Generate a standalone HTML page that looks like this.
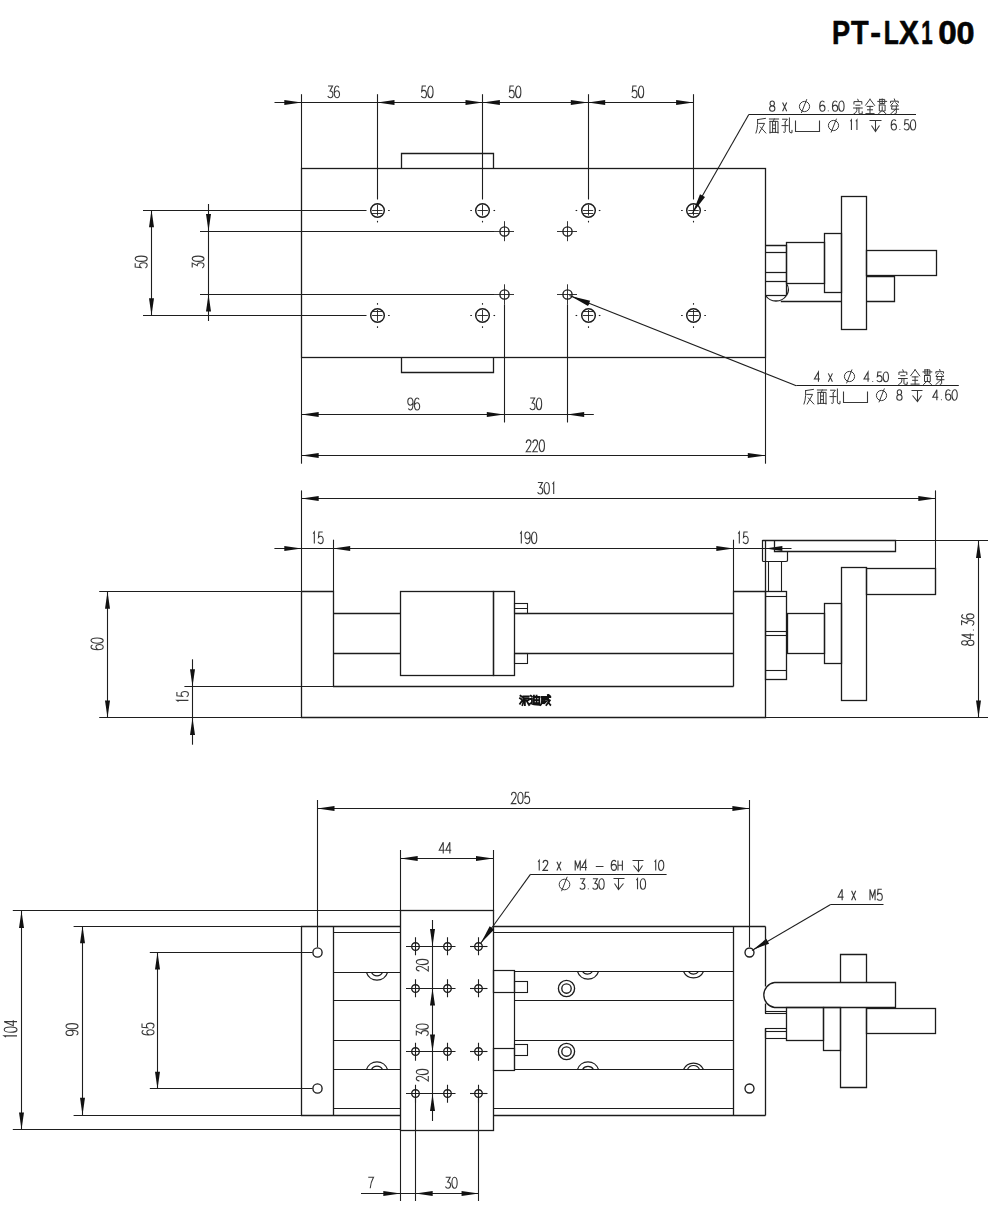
<!DOCTYPE html>
<html><head><meta charset="utf-8"><title>PT-LX100</title>
<style>
html,body{margin:0;padding:0;background:#fff;width:1000px;height:1221px;overflow:hidden}
svg{display:block;position:absolute;left:0;top:0}
text{font-family:"Liberation Sans",sans-serif}
</style></head><body>
<svg width="1000" height="1221" viewBox="0 0 1000 1221" stroke-linecap="butt">
<text transform="translate(831.88 43.5) scale(0.842 1)" x="0" y="0" font-size="32.3" font-weight="bold" fill="#050505" stroke="#050505" stroke-width="0.6" stroke-linejoin="round">P</text>
<text transform="translate(850.98 43.5) scale(0.894 1)" x="0" y="0" font-size="32.3" font-weight="bold" fill="#050505" stroke="#050505" stroke-width="0.6" stroke-linejoin="round">T</text>
<text transform="translate(870.24 43.5) scale(1.000 1)" x="0" y="0" font-size="32.3" font-weight="bold" fill="#050505" stroke="#050505" stroke-width="0.6" stroke-linejoin="round">-</text>
<text transform="translate(883.65 43.5) scale(0.763 1)" x="0" y="0" font-size="32.3" font-weight="bold" fill="#050505" stroke="#050505" stroke-width="0.6" stroke-linejoin="round">L</text>
<text transform="translate(899.04 43.5) scale(0.925 1)" x="0" y="0" font-size="32.3" font-weight="bold" fill="#050505" stroke="#050505" stroke-width="0.6" stroke-linejoin="round">X</text>
<text transform="translate(921.26 43.5) scale(0.635 1)" x="0" y="0" font-size="32.3" font-weight="bold" fill="#050505" stroke="#050505" stroke-width="0.6" stroke-linejoin="round">1</text>
<text transform="translate(938.19 43.5) scale(1.029 1)" x="0" y="0" font-size="32.3" font-weight="bold" fill="#050505" stroke="#050505" stroke-width="0.6" stroke-linejoin="round">0</text>
<text transform="translate(956.62 43.5) scale(1.003 1)" x="0" y="0" font-size="32.3" font-weight="bold" fill="#050505" stroke="#050505" stroke-width="0.6" stroke-linejoin="round">0</text>
<rect x="301.5" y="168.5" width="464" height="189" fill="none" stroke="#1c1c1c" stroke-width="1.3"/>
<path d="M401.5 168.5V153.5H493.5V168.5" fill="none" stroke="#1c1c1c" stroke-width="1.3"/>
<path d="M401.5 357.5V372.5H493.5V357.5" fill="none" stroke="#1c1c1c" stroke-width="1.3"/>
<line x1="274.5" y1="102.5" x2="693.3" y2="102.5" stroke="#1e1e1e" stroke-width="1.1"/>
<path d="M301.5 102.5L284.3 105L284.3 100Z" fill="#111" stroke="none"/>
<path d="M377.3 102.5L394.5 100L394.5 105Z" fill="#111" stroke="none"/>
<path d="M482.7 102.5L465.5 105L465.5 100Z" fill="#111" stroke="none"/>
<path d="M482.7 102.5L499.9 100L499.9 105Z" fill="#111" stroke="none"/>
<path d="M588 102.5L570.8 105L570.8 100Z" fill="#111" stroke="none"/>
<path d="M588 102.5L605.2 100L605.2 105Z" fill="#111" stroke="none"/>
<path d="M693.3 102.5L676.1 105L676.1 100Z" fill="#111" stroke="none"/>
<line x1="301.5" y1="94.2" x2="301.5" y2="168" stroke="#1e1e1e" stroke-width="1.1"/>
<line x1="377.5" y1="94.2" x2="377.5" y2="199.5" stroke="#1e1e1e" stroke-width="1.1"/>
<line x1="482.5" y1="94.2" x2="482.5" y2="199.5" stroke="#1e1e1e" stroke-width="1.1"/>
<line x1="588.5" y1="94.2" x2="588.5" y2="199.5" stroke="#1e1e1e" stroke-width="1.1"/>
<line x1="693.5" y1="94.2" x2="693.5" y2="199.5" stroke="#1e1e1e" stroke-width="1.1"/>
<path transform="translate(327.65 86.00) scale(0.940 1.170)" d="M0.4 0H5.2L2.5 4.3C4.5 4.3 5.6 5.6 5.6 7.2C5.6 9 4.4 10 2.8 10C1.6 10 0.7 9.5 0.1 8.5" fill="none" stroke="#383838" stroke-width="1.1" vector-effect="non-scaling-stroke"/>
<path transform="translate(334.25 86.00) scale(0.940 1.170)" d="M5 1.2C4.5 0.4 3.8 0 2.9 0C1 0 0 2.3 0 5.6C0 8.6 1.2 10 2.9 10C4.6 10 5.6 8.7 5.6 7C5.6 5.2 4.5 4 2.9 4C1.5 4 0.5 4.8 0 6.1" fill="none" stroke="#383838" stroke-width="1.1" vector-effect="non-scaling-stroke"/>
<path transform="translate(421.20 86.00) scale(0.940 1.180)" d="M5.1 0H1.1L0.6 4.6C1.2 4 2 3.7 2.9 3.7C4.6 3.7 5.6 5 5.6 6.9C5.6 8.9 4.4 10 2.8 10C1.6 10 0.7 9.5 0.1 8.5" fill="none" stroke="#383838" stroke-width="1.1" vector-effect="non-scaling-stroke"/>
<path transform="translate(427.80 86.00) scale(0.940 1.180)" d="M0 5A2.8 5 0 1 1 5.6 5A2.8 5 0 1 1 0 5Z" fill="none" stroke="#383838" stroke-width="1.1" vector-effect="non-scaling-stroke"/>
<path transform="translate(509.00 86.00) scale(0.940 1.180)" d="M5.1 0H1.1L0.6 4.6C1.2 4 2 3.7 2.9 3.7C4.6 3.7 5.6 5 5.6 6.9C5.6 8.9 4.4 10 2.8 10C1.6 10 0.7 9.5 0.1 8.5" fill="none" stroke="#383838" stroke-width="1.1" vector-effect="non-scaling-stroke"/>
<path transform="translate(515.60 86.00) scale(0.940 1.180)" d="M0 5A2.8 5 0 1 1 5.6 5A2.8 5 0 1 1 0 5Z" fill="none" stroke="#383838" stroke-width="1.1" vector-effect="non-scaling-stroke"/>
<path transform="translate(631.80 86.00) scale(0.940 1.180)" d="M5.1 0H1.1L0.6 4.6C1.2 4 2 3.7 2.9 3.7C4.6 3.7 5.6 5 5.6 6.9C5.6 8.9 4.4 10 2.8 10C1.6 10 0.7 9.5 0.1 8.5" fill="none" stroke="#383838" stroke-width="1.1" vector-effect="non-scaling-stroke"/>
<path transform="translate(638.40 86.00) scale(0.940 1.180)" d="M0 5A2.8 5 0 1 1 5.6 5A2.8 5 0 1 1 0 5Z" fill="none" stroke="#383838" stroke-width="1.1" vector-effect="non-scaling-stroke"/>
<circle cx="377.5" cy="210.5" r="6.8" fill="none" stroke="#1c1c1c" stroke-width="1.45"/>
<line x1="372.1" y1="210.5" x2="382.5" y2="210.5" stroke="#1e1e1e" stroke-width="0.9"/>
<line x1="377.5" y1="204.55" x2="377.5" y2="215.55" stroke="#1e1e1e" stroke-width="0.9"/>
<line x1="372" y1="213.5" x2="382.6" y2="213.5" stroke="#1e1e1e" stroke-width="0.9"/>
<line x1="388.1" y1="210.5" x2="389.7" y2="210.5" stroke="#1e1e1e" stroke-width="1.1"/>
<line x1="377.5" y1="220.85" x2="377.5" y2="222.45" stroke="#1e1e1e" stroke-width="1.1"/>
<circle cx="482.5" cy="210.5" r="6.8" fill="none" stroke="#1c1c1c" stroke-width="1.45"/>
<line x1="477.5" y1="210.5" x2="487.9" y2="210.5" stroke="#1e1e1e" stroke-width="0.9"/>
<line x1="482.5" y1="204.55" x2="482.5" y2="215.55" stroke="#1e1e1e" stroke-width="0.9"/>
<line x1="493.5" y1="210.5" x2="495.1" y2="210.5" stroke="#1e1e1e" stroke-width="1.1"/>
<line x1="482.5" y1="220.85" x2="482.5" y2="222.45" stroke="#1e1e1e" stroke-width="1.1"/>
<line x1="470.3" y1="210.5" x2="471.9" y2="210.5" stroke="#1e1e1e" stroke-width="1.1"/>
<circle cx="588.5" cy="210.5" r="6.8" fill="none" stroke="#1c1c1c" stroke-width="1.45"/>
<line x1="582.8" y1="210.5" x2="593.2" y2="210.5" stroke="#1e1e1e" stroke-width="0.9"/>
<line x1="588.5" y1="204.55" x2="588.5" y2="215.55" stroke="#1e1e1e" stroke-width="0.9"/>
<line x1="582.7" y1="213.5" x2="593.3" y2="213.5" stroke="#1e1e1e" stroke-width="0.9"/>
<line x1="598.8" y1="210.5" x2="600.4" y2="210.5" stroke="#1e1e1e" stroke-width="1.1"/>
<line x1="588.5" y1="220.85" x2="588.5" y2="222.45" stroke="#1e1e1e" stroke-width="1.1"/>
<line x1="575.6" y1="210.5" x2="577.2" y2="210.5" stroke="#1e1e1e" stroke-width="1.1"/>
<circle cx="693.5" cy="210.5" r="6.8" fill="none" stroke="#1c1c1c" stroke-width="1.45"/>
<line x1="688.3" y1="210.5" x2="698.7" y2="210.5" stroke="#1e1e1e" stroke-width="0.9"/>
<line x1="693.5" y1="204.55" x2="693.5" y2="215.55" stroke="#1e1e1e" stroke-width="0.9"/>
<line x1="688.2" y1="213.5" x2="698.8" y2="213.5" stroke="#1e1e1e" stroke-width="0.9"/>
<line x1="704.3" y1="210.5" x2="705.9" y2="210.5" stroke="#1e1e1e" stroke-width="1.1"/>
<line x1="693.5" y1="220.85" x2="693.5" y2="222.45" stroke="#1e1e1e" stroke-width="1.1"/>
<line x1="681.1" y1="210.5" x2="682.7" y2="210.5" stroke="#1e1e1e" stroke-width="1.1"/>
<circle cx="377.5" cy="315.5" r="6.8" fill="none" stroke="#1c1c1c" stroke-width="1.45"/>
<line x1="372.1" y1="315.5" x2="382.5" y2="315.5" stroke="#1e1e1e" stroke-width="0.9"/>
<line x1="377.5" y1="310" x2="377.5" y2="321" stroke="#1e1e1e" stroke-width="0.9"/>
<line x1="372" y1="311.5" x2="382.6" y2="311.5" stroke="#1e1e1e" stroke-width="0.9"/>
<line x1="388.1" y1="315.5" x2="389.7" y2="315.5" stroke="#1e1e1e" stroke-width="1.1"/>
<line x1="377.5" y1="326.3" x2="377.5" y2="327.9" stroke="#1e1e1e" stroke-width="1.1"/>
<line x1="377.5" y1="303.1" x2="377.5" y2="304.7" stroke="#1e1e1e" stroke-width="1.1"/>
<circle cx="482.5" cy="315.5" r="6.8" fill="none" stroke="#1c1c1c" stroke-width="1.45"/>
<line x1="477.5" y1="315.5" x2="487.9" y2="315.5" stroke="#1e1e1e" stroke-width="0.9"/>
<line x1="482.5" y1="310" x2="482.5" y2="321" stroke="#1e1e1e" stroke-width="0.9"/>
<line x1="493.5" y1="315.5" x2="495.1" y2="315.5" stroke="#1e1e1e" stroke-width="1.1"/>
<line x1="482.5" y1="326.3" x2="482.5" y2="327.9" stroke="#1e1e1e" stroke-width="1.1"/>
<line x1="470.3" y1="315.5" x2="471.9" y2="315.5" stroke="#1e1e1e" stroke-width="1.1"/>
<line x1="482.5" y1="303.1" x2="482.5" y2="304.7" stroke="#1e1e1e" stroke-width="1.1"/>
<circle cx="588.5" cy="315.5" r="6.8" fill="none" stroke="#1c1c1c" stroke-width="1.45"/>
<line x1="582.8" y1="315.5" x2="593.2" y2="315.5" stroke="#1e1e1e" stroke-width="0.9"/>
<line x1="588.5" y1="310" x2="588.5" y2="321" stroke="#1e1e1e" stroke-width="0.9"/>
<line x1="582.7" y1="311.5" x2="593.3" y2="311.5" stroke="#1e1e1e" stroke-width="0.9"/>
<line x1="598.8" y1="315.5" x2="600.4" y2="315.5" stroke="#1e1e1e" stroke-width="1.1"/>
<line x1="588.5" y1="326.3" x2="588.5" y2="327.9" stroke="#1e1e1e" stroke-width="1.1"/>
<line x1="575.6" y1="315.5" x2="577.2" y2="315.5" stroke="#1e1e1e" stroke-width="1.1"/>
<line x1="588.5" y1="303.1" x2="588.5" y2="304.7" stroke="#1e1e1e" stroke-width="1.1"/>
<circle cx="693.5" cy="315.5" r="6.8" fill="none" stroke="#1c1c1c" stroke-width="1.45"/>
<line x1="688.3" y1="315.5" x2="698.7" y2="315.5" stroke="#1e1e1e" stroke-width="0.9"/>
<line x1="693.5" y1="310" x2="693.5" y2="321" stroke="#1e1e1e" stroke-width="0.9"/>
<line x1="688.2" y1="311.5" x2="698.8" y2="311.5" stroke="#1e1e1e" stroke-width="0.9"/>
<line x1="704.3" y1="315.5" x2="705.9" y2="315.5" stroke="#1e1e1e" stroke-width="1.1"/>
<line x1="693.5" y1="326.3" x2="693.5" y2="327.9" stroke="#1e1e1e" stroke-width="1.1"/>
<line x1="681.1" y1="315.5" x2="682.7" y2="315.5" stroke="#1e1e1e" stroke-width="1.1"/>
<line x1="693.5" y1="303.1" x2="693.5" y2="304.7" stroke="#1e1e1e" stroke-width="1.1"/>
<circle cx="504.5" cy="231.5" r="4.6" fill="none" stroke="#1c1c1c" stroke-width="1.35"/>
<line x1="494" y1="231.5" x2="514" y2="231.5" stroke="#1e1e1e" stroke-width="0.9"/>
<line x1="504.5" y1="221.2" x2="504.5" y2="241.2" stroke="#1e1e1e" stroke-width="0.9"/>
<circle cx="567.5" cy="231.5" r="4.6" fill="none" stroke="#1c1c1c" stroke-width="1.35"/>
<line x1="557" y1="231.5" x2="577" y2="231.5" stroke="#1e1e1e" stroke-width="0.9"/>
<line x1="567.5" y1="221.2" x2="567.5" y2="241.2" stroke="#1e1e1e" stroke-width="0.9"/>
<circle cx="504.5" cy="294.5" r="4.6" fill="none" stroke="#1c1c1c" stroke-width="1.35"/>
<line x1="494" y1="294.5" x2="514" y2="294.5" stroke="#1e1e1e" stroke-width="0.9"/>
<line x1="504.5" y1="284.3" x2="504.5" y2="304.3" stroke="#1e1e1e" stroke-width="0.9"/>
<circle cx="567.5" cy="294.5" r="4.6" fill="none" stroke="#1c1c1c" stroke-width="1.35"/>
<line x1="557" y1="294.5" x2="577" y2="294.5" stroke="#1e1e1e" stroke-width="0.9"/>
<line x1="567.5" y1="284.3" x2="567.5" y2="304.3" stroke="#1e1e1e" stroke-width="0.9"/>
<line x1="143" y1="210.5" x2="366.5" y2="210.5" stroke="#1e1e1e" stroke-width="1.1"/>
<line x1="143" y1="315.5" x2="366.5" y2="315.5" stroke="#1e1e1e" stroke-width="1.1"/>
<line x1="200" y1="231.5" x2="494" y2="231.5" stroke="#1e1e1e" stroke-width="1.1"/>
<line x1="200" y1="294.5" x2="494" y2="294.5" stroke="#1e1e1e" stroke-width="1.1"/>
<line x1="151.5" y1="210.05" x2="151.5" y2="315.5" stroke="#1e1e1e" stroke-width="1.1"/>
<path d="M151.5 210.05L154 227.25L149 227.25Z" fill="#111" stroke="none"/>
<path d="M151.5 315.5L149 298.3L154 298.3Z" fill="#111" stroke="none"/>
<line x1="208.5" y1="204" x2="208.5" y2="321" stroke="#1e1e1e" stroke-width="1.1"/>
<path d="M208.5 231.2L206 214L211 214Z" fill="#111" stroke="none"/>
<path d="M208.5 294.3L211 311.5L206 311.5Z" fill="#111" stroke="none"/>
<g transform="translate(147.2 268) rotate(-90)">
<path transform="translate(0.00 -12.00) scale(0.940 1.200)" d="M5.1 0H1.1L0.6 4.6C1.2 4 2 3.7 2.9 3.7C4.6 3.7 5.6 5 5.6 6.9C5.6 8.9 4.4 10 2.8 10C1.6 10 0.7 9.5 0.1 8.5" fill="none" stroke="#383838" stroke-width="1.1" vector-effect="non-scaling-stroke"/>
<path transform="translate(6.60 -12.00) scale(0.940 1.200)" d="M0 5A2.8 5 0 1 1 5.6 5A2.8 5 0 1 1 0 5Z" fill="none" stroke="#383838" stroke-width="1.1" vector-effect="non-scaling-stroke"/>
</g>
<g transform="translate(204 268) rotate(-90)">
<path transform="translate(0.00 -11.80) scale(0.940 1.180)" d="M0.4 0H5.2L2.5 4.3C4.5 4.3 5.6 5.6 5.6 7.2C5.6 9 4.4 10 2.8 10C1.6 10 0.7 9.5 0.1 8.5" fill="none" stroke="#383838" stroke-width="1.1" vector-effect="non-scaling-stroke"/>
<path transform="translate(6.60 -11.80) scale(0.940 1.180)" d="M0 5A2.8 5 0 1 1 5.6 5A2.8 5 0 1 1 0 5Z" fill="none" stroke="#383838" stroke-width="1.1" vector-effect="non-scaling-stroke"/>
</g>
<line x1="504.5" y1="304.3" x2="504.5" y2="422.5" stroke="#1e1e1e" stroke-width="1.1"/>
<line x1="567.5" y1="304.3" x2="567.5" y2="422.5" stroke="#1e1e1e" stroke-width="1.1"/>
<line x1="301.5" y1="357.5" x2="301.5" y2="463.7" stroke="#1e1e1e" stroke-width="1.1"/>
<line x1="765.5" y1="357.5" x2="765.5" y2="463.7" stroke="#1e1e1e" stroke-width="1.1"/>
<line x1="301.5" y1="414.5" x2="593.8" y2="414.5" stroke="#1e1e1e" stroke-width="1.1"/>
<path d="M301.5 414.5L318.7 412L318.7 417Z" fill="#111" stroke="none"/>
<path d="M504 414.5L486.8 417L486.8 412Z" fill="#111" stroke="none"/>
<path d="M567 414.5L584.2 412L584.2 417Z" fill="#111" stroke="none"/>
<path transform="translate(407.80 398.00) scale(0.940 1.200)" d="M0.6 8.8C1.1 9.6 1.8 10 2.7 10C4.6 10 5.6 7.7 5.6 4.4C5.6 1.4 4.4 0 2.7 0C1 0 0 1.3 0 3C0 4.8 1.1 6 2.7 6C4.1 6 5.1 5.2 5.6 3.9" fill="none" stroke="#383838" stroke-width="1.1" vector-effect="non-scaling-stroke"/>
<path transform="translate(414.40 398.00) scale(0.940 1.200)" d="M5 1.2C4.5 0.4 3.8 0 2.9 0C1 0 0 2.3 0 5.6C0 8.6 1.2 10 2.9 10C4.6 10 5.6 8.7 5.6 7C5.6 5.2 4.5 4 2.9 4C1.5 4 0.5 4.8 0 6.1" fill="none" stroke="#383838" stroke-width="1.1" vector-effect="non-scaling-stroke"/>
<path transform="translate(529.80 398.00) scale(0.940 1.180)" d="M0.4 0H5.2L2.5 4.3C4.5 4.3 5.6 5.6 5.6 7.2C5.6 9 4.4 10 2.8 10C1.6 10 0.7 9.5 0.1 8.5" fill="none" stroke="#383838" stroke-width="1.1" vector-effect="non-scaling-stroke"/>
<path transform="translate(536.40 398.00) scale(0.940 1.180)" d="M0 5A2.8 5 0 1 1 5.6 5A2.8 5 0 1 1 0 5Z" fill="none" stroke="#383838" stroke-width="1.1" vector-effect="non-scaling-stroke"/>
<line x1="301.5" y1="455.5" x2="765" y2="455.5" stroke="#1e1e1e" stroke-width="1.1"/>
<path d="M301.5 455.5L318.7 453L318.7 458Z" fill="#111" stroke="none"/>
<path d="M765 455.5L747.8 458L747.8 453Z" fill="#111" stroke="none"/>
<path transform="translate(526.00 439.90) scale(0.940 1.180)" d="M0.3 2.6C0.4 0.8 1.5 0 2.8 0C4.3 0 5.3 1 5.3 2.7C5.3 4.6 3.4 6.2 0.2 10H5.6" fill="none" stroke="#383838" stroke-width="1.1" vector-effect="non-scaling-stroke"/>
<path transform="translate(532.60 439.90) scale(0.940 1.180)" d="M0.3 2.6C0.4 0.8 1.5 0 2.8 0C4.3 0 5.3 1 5.3 2.7C5.3 4.6 3.4 6.2 0.2 10H5.6" fill="none" stroke="#383838" stroke-width="1.1" vector-effect="non-scaling-stroke"/>
<path transform="translate(539.20 439.90) scale(0.940 1.180)" d="M0 5A2.8 5 0 1 1 5.6 5A2.8 5 0 1 1 0 5Z" fill="none" stroke="#383838" stroke-width="1.1" vector-effect="non-scaling-stroke"/>
<line x1="748.8" y1="114.5" x2="916" y2="114.5" stroke="#1e1e1e" stroke-width="1.1"/>
<line x1="748.8" y1="114.6" x2="692.6" y2="213" stroke="#1e1e1e" stroke-width="1.1"/>
<path d="M692.6 213L700 194.19L705.04 197.07Z" fill="#111" stroke="none"/>
<path transform="translate(769.60 101.00) scale(0.940 1.030)" d="M2.8 4.7C1.3 4.7 0.5 3.8 0.5 2.35C0.5 0.9 1.4 0 2.8 0C4.2 0 5.1 0.9 5.1 2.35C5.1 3.8 4.3 4.7 2.8 4.7C1.1 4.7 0 5.8 0 7.35C0 9 1.2 10 2.8 10C4.4 10 5.6 9 5.6 7.35C5.6 5.8 4.5 4.7 2.8 4.7Z" fill="none" stroke="#383838" stroke-width="1.1" vector-effect="non-scaling-stroke"/>
<path transform="translate(782.02 101.00) scale(0.940 1.030)" d="M0.6 1.4L5.0 10M5.0 1.4L0.6 10" fill="none" stroke="#383838" stroke-width="1.1" vector-effect="non-scaling-stroke"/>
<circle cx="804.5" cy="106.5" r="5.1" fill="none" stroke="#383838" stroke-width="1"/>
<line x1="801.35" y1="113.03" x2="806.8" y2="99.16" stroke="#383838" stroke-width="1"/>
<path transform="translate(819.70 101.00) scale(0.940 1.030)" d="M5 1.2C4.5 0.4 3.8 0 2.9 0C1 0 0 2.3 0 5.6C0 8.6 1.2 10 2.9 10C4.6 10 5.6 8.7 5.6 7C5.6 5.2 4.5 4 2.9 4C1.5 4 0.5 4.8 0 6.1" fill="none" stroke="#383838" stroke-width="1.1" vector-effect="non-scaling-stroke"/>
<path transform="translate(826.07 101.00) scale(0.940 1.030)" d="M2.4 9.2V10" fill="none" stroke="#383838" stroke-width="1.1" vector-effect="non-scaling-stroke"/>
<path transform="translate(832.44 101.00) scale(0.940 1.030)" d="M5 1.2C4.5 0.4 3.8 0 2.9 0C1 0 0 2.3 0 5.6C0 8.6 1.2 10 2.9 10C4.6 10 5.6 8.7 5.6 7C5.6 5.2 4.5 4 2.9 4C1.5 4 0.5 4.8 0 6.1" fill="none" stroke="#383838" stroke-width="1.1" vector-effect="non-scaling-stroke"/>
<path transform="translate(838.81 101.00) scale(0.940 1.030)" d="M0 5A2.8 5 0 1 1 5.6 5A2.8 5 0 1 1 0 5Z" fill="none" stroke="#383838" stroke-width="1.1" vector-effect="non-scaling-stroke"/>
<path transform="translate(853 99) scale(0.96 1)" d="M5 0.3L5.6 2 M1 5V2.6H9.2V5 M3 6.2H7.2 M0.6 9H9.6 M4 9V11.5Q3.6 13.8 0.8 15 M6.2 9V13.8Q6.2 14.8 7.4 14.8H9.6V12.8" fill="none" stroke="#383838" stroke-width="1" vector-effect="non-scaling-stroke" stroke-linecap="square"/>
<path transform="translate(865.2 99) scale(0.96 1)" d="M5 0.2L0.4 6.2 M5 0.2L9.8 6.4 M2 7.4H8 M2.4 10.8H7.6 M0.8 14.6H9.2 M5 7.4V14.6" fill="none" stroke="#383838" stroke-width="1" vector-effect="non-scaling-stroke" stroke-linecap="square"/>
<path transform="translate(877.4 99) scale(0.96 1)" d="M2.4 0.4V4.6H7.6V0.4H2.4 M0.4 2.4H9.6 M5 0V4.6 M2 6V12H8V6H2 M5 7.8V11 M4.2 12L1 15 M5.8 12L9.2 15" fill="none" stroke="#383838" stroke-width="1" vector-effect="non-scaling-stroke" stroke-linecap="square"/>
<path transform="translate(889.6 99) scale(0.96 1)" d="M5 0L5.5 1.6 M1 3.6V2.2H9V3.6 M3.6 3.8L1.6 6 M6.4 3.8L8.6 6 M1.4 7H8.8 M2.6 7L2 10.2H9.4 M7 7V14Q7 15 5.6 14.8 M6.2 10.4L1 15" fill="none" stroke="#383838" stroke-width="1" vector-effect="non-scaling-stroke" stroke-linecap="square"/>
<path transform="translate(756 118) scale(1 1)" d="M9.4 0.4L1.6 1.6 M1.6 1.6V6.5Q1.4 11.5 0 15 M2.8 5.4H8.6L3.2 15 M4.4 9L9.8 15" fill="none" stroke="#383838" stroke-width="1" vector-effect="non-scaling-stroke" stroke-linecap="square"/>
<path transform="translate(769 118) scale(1 1)" d="M0.4 1H9.6 M5.2 1L4.4 3.4 M1 3.4V15 M1 3.4H9V15 M3.6 3.4V14.4 M6.4 3.4V14.4 M3.6 7H6.4 M3.6 10.6H6.4 M1 14.4H9" fill="none" stroke="#383838" stroke-width="1" vector-effect="non-scaling-stroke" stroke-linecap="square"/>
<path transform="translate(782 118) scale(1 1)" d="M0.6 1.2H5.4L3.2 4 M3.2 4V13.8Q3.2 15 1.6 14.2 M0 7.6H6 M7.4 0V12.8Q7.4 14.8 9 14.8H10V12.4" fill="none" stroke="#383838" stroke-width="1" vector-effect="non-scaling-stroke" stroke-linecap="square"/>
<path d="M795.5 120.5V131.5H819.5V120.5" fill="none" stroke="#383838" stroke-width="1.1"/>
<circle cx="833.5" cy="125.5" r="5.1" fill="none" stroke="#383838" stroke-width="1"/>
<line x1="831.05" y1="132.53" x2="836.5" y2="118.66" stroke="#383838" stroke-width="1"/>
<path transform="translate(848.42 119.80) scale(0.940 1.020)" d="M2.0 1.4L3.2 0V10" fill="none" stroke="#383838" stroke-width="1.1" vector-effect="non-scaling-stroke"/>
<path transform="translate(853.92 119.80) scale(0.940 1.020)" d="M2.0 1.4L3.2 0V10" fill="none" stroke="#383838" stroke-width="1.1" vector-effect="non-scaling-stroke"/>
<path d="M869.5 120.5H881.5M875.5 120.5V131.5M871.5 125.5L875.5 131.5L879.5 125.5" fill="none" stroke="#383838" stroke-width="1.05"/>
<path transform="translate(891.20 119.80) scale(0.940 1.020)" d="M5 1.2C4.5 0.4 3.8 0 2.9 0C1 0 0 2.3 0 5.6C0 8.6 1.2 10 2.9 10C4.6 10 5.6 8.7 5.6 7C5.6 5.2 4.5 4 2.9 4C1.5 4 0.5 4.8 0 6.1" fill="none" stroke="#383838" stroke-width="1.1" vector-effect="non-scaling-stroke"/>
<path transform="translate(897.60 119.80) scale(0.940 1.020)" d="M2.4 9.2V10" fill="none" stroke="#383838" stroke-width="1.1" vector-effect="non-scaling-stroke"/>
<path transform="translate(904.00 119.80) scale(0.940 1.020)" d="M5.1 0H1.1L0.6 4.6C1.2 4 2 3.7 2.9 3.7C4.6 3.7 5.6 5 5.6 6.9C5.6 8.9 4.4 10 2.8 10C1.6 10 0.7 9.5 0.1 8.5" fill="none" stroke="#383838" stroke-width="1.1" vector-effect="non-scaling-stroke"/>
<path transform="translate(910.40 119.80) scale(0.940 1.020)" d="M0 5A2.8 5 0 1 1 5.6 5A2.8 5 0 1 1 0 5Z" fill="none" stroke="#383838" stroke-width="1.1" vector-effect="non-scaling-stroke"/>
<line x1="796.3" y1="385.5" x2="958.8" y2="385.5" stroke="#1e1e1e" stroke-width="1.1"/>
<line x1="796.3" y1="385.8" x2="569.5" y2="295.5" stroke="#1e1e1e" stroke-width="1.1"/>
<path d="M570.5 296L590.16 300.7L588.01 306.09Z" fill="#111" stroke="none"/>
<path transform="translate(814.40 372.00) scale(0.940 0.980)" d="M4.3 10V0L0 7.1H5.8" fill="none" stroke="#383838" stroke-width="1.1" vector-effect="non-scaling-stroke"/>
<path transform="translate(827.72 372.00) scale(0.940 0.980)" d="M0.6 1.4L5.0 10M5.0 1.4L0.6 10" fill="none" stroke="#383838" stroke-width="1.1" vector-effect="non-scaling-stroke"/>
<circle cx="849.5" cy="376.5" r="5.1" fill="none" stroke="#383838" stroke-width="1"/>
<line x1="846.55" y1="383.33" x2="852" y2="369.46" stroke="#383838" stroke-width="1"/>
<path transform="translate(864.00 372.00) scale(0.940 0.980)" d="M4.3 10V0L0 7.1H5.8" fill="none" stroke="#383838" stroke-width="1.1" vector-effect="non-scaling-stroke"/>
<path transform="translate(870.40 372.00) scale(0.940 0.980)" d="M2.4 9.2V10" fill="none" stroke="#383838" stroke-width="1.1" vector-effect="non-scaling-stroke"/>
<path transform="translate(876.80 372.00) scale(0.940 0.980)" d="M5.1 0H1.1L0.6 4.6C1.2 4 2 3.7 2.9 3.7C4.6 3.7 5.6 5 5.6 6.9C5.6 8.9 4.4 10 2.8 10C1.6 10 0.7 9.5 0.1 8.5" fill="none" stroke="#383838" stroke-width="1.1" vector-effect="non-scaling-stroke"/>
<path transform="translate(883.20 372.00) scale(0.940 0.980)" d="M0 5A2.8 5 0 1 1 5.6 5A2.8 5 0 1 1 0 5Z" fill="none" stroke="#383838" stroke-width="1.1" vector-effect="non-scaling-stroke"/>
<path transform="translate(898 369.5) scale(0.96 1)" d="M5 0.3L5.6 2 M1 5V2.6H9.2V5 M3 6.2H7.2 M0.6 9H9.6 M4 9V11.5Q3.6 13.8 0.8 15 M6.2 9V13.8Q6.2 14.8 7.4 14.8H9.6V12.8" fill="none" stroke="#383838" stroke-width="1" vector-effect="non-scaling-stroke" stroke-linecap="square"/>
<path transform="translate(910.3 369.5) scale(0.96 1)" d="M5 0.2L0.4 6.2 M5 0.2L9.8 6.4 M2 7.4H8 M2.4 10.8H7.6 M0.8 14.6H9.2 M5 7.4V14.6" fill="none" stroke="#383838" stroke-width="1" vector-effect="non-scaling-stroke" stroke-linecap="square"/>
<path transform="translate(922.6 369.5) scale(0.96 1)" d="M2.4 0.4V4.6H7.6V0.4H2.4 M0.4 2.4H9.6 M5 0V4.6 M2 6V12H8V6H2 M5 7.8V11 M4.2 12L1 15 M5.8 12L9.2 15" fill="none" stroke="#383838" stroke-width="1" vector-effect="non-scaling-stroke" stroke-linecap="square"/>
<path transform="translate(934.9 369.5) scale(0.96 1)" d="M5 0L5.5 1.6 M1 3.6V2.2H9V3.6 M3.6 3.8L1.6 6 M6.4 3.8L8.6 6 M1.4 7H8.8 M2.6 7L2 10.2H9.4 M7 7V14Q7 15 5.6 14.8 M6.2 10.4L1 15" fill="none" stroke="#383838" stroke-width="1" vector-effect="non-scaling-stroke" stroke-linecap="square"/>
<path transform="translate(804 389) scale(1 1)" d="M9.4 0.4L1.6 1.6 M1.6 1.6V6.5Q1.4 11.5 0 15 M2.8 5.4H8.6L3.2 15 M4.4 9L9.8 15" fill="none" stroke="#383838" stroke-width="1" vector-effect="non-scaling-stroke" stroke-linecap="square"/>
<path transform="translate(817 389) scale(1 1)" d="M0.4 1H9.6 M5.2 1L4.4 3.4 M1 3.4V15 M1 3.4H9V15 M3.6 3.4V14.4 M6.4 3.4V14.4 M3.6 7H6.4 M3.6 10.6H6.4 M1 14.4H9" fill="none" stroke="#383838" stroke-width="1" vector-effect="non-scaling-stroke" stroke-linecap="square"/>
<path transform="translate(830 389) scale(1 1)" d="M0.6 1.2H5.4L3.2 4 M3.2 4V13.8Q3.2 15 1.6 14.2 M0 7.6H6 M7.4 0V12.8Q7.4 14.8 9 14.8H10V12.4" fill="none" stroke="#383838" stroke-width="1" vector-effect="non-scaling-stroke" stroke-linecap="square"/>
<path d="M843.5 391.5V402.5H867.5V391.5" fill="none" stroke="#383838" stroke-width="1.1"/>
<circle cx="881.5" cy="395.5" r="5.1" fill="none" stroke="#383838" stroke-width="1"/>
<line x1="878.95" y1="402.33" x2="884.4" y2="388.46" stroke="#383838" stroke-width="1"/>
<path transform="translate(896.80 389.80) scale(0.940 1.040)" d="M2.8 4.7C1.3 4.7 0.5 3.8 0.5 2.35C0.5 0.9 1.4 0 2.8 0C4.2 0 5.1 0.9 5.1 2.35C5.1 3.8 4.3 4.7 2.8 4.7C1.1 4.7 0 5.8 0 7.35C0 9 1.2 10 2.8 10C4.4 10 5.6 9 5.6 7.35C5.6 5.8 4.5 4.7 2.8 4.7Z" fill="none" stroke="#383838" stroke-width="1.1" vector-effect="non-scaling-stroke"/>
<path d="M911.5 390.5H922.5M917.5 390.5V401.5M912.5 395.5L917.5 401.5L921.5 395.5" fill="none" stroke="#383838" stroke-width="1.05"/>
<path transform="translate(932.80 389.80) scale(0.940 1.040)" d="M4.3 10V0L0 7.1H5.8" fill="none" stroke="#383838" stroke-width="1.1" vector-effect="non-scaling-stroke"/>
<path transform="translate(939.20 389.80) scale(0.940 1.040)" d="M2.4 9.2V10" fill="none" stroke="#383838" stroke-width="1.1" vector-effect="non-scaling-stroke"/>
<path transform="translate(945.60 389.80) scale(0.940 1.040)" d="M5 1.2C4.5 0.4 3.8 0 2.9 0C1 0 0 2.3 0 5.6C0 8.6 1.2 10 2.9 10C4.6 10 5.6 8.7 5.6 7C5.6 5.2 4.5 4 2.9 4C1.5 4 0.5 4.8 0 6.1" fill="none" stroke="#383838" stroke-width="1.1" vector-effect="non-scaling-stroke"/>
<path transform="translate(952.00 389.80) scale(0.940 1.040)" d="M0 5A2.8 5 0 1 1 5.6 5A2.8 5 0 1 1 0 5Z" fill="none" stroke="#383838" stroke-width="1.1" vector-effect="non-scaling-stroke"/>
<path d="M765.5 245.5H786.5V295.5" fill="none" stroke="#1c1c1c" stroke-width="1.3"/>
<line x1="765" y1="252.5" x2="786.2" y2="252.5" stroke="#1c1c1c" stroke-width="1.25"/>
<line x1="765" y1="272.5" x2="786.2" y2="272.5" stroke="#1c1c1c" stroke-width="1.25"/>
<line x1="765" y1="281.5" x2="786.2" y2="281.5" stroke="#1c1c1c" stroke-width="1.25"/>
<line x1="765" y1="295.5" x2="786.2" y2="295.5" stroke="#1c1c1c" stroke-width="1.25"/>
<path d="M765.5 295.5A12.8 12.8 0 0 0 786.5 295.5" fill="none" stroke="#1c1c1c" stroke-width="1.3"/>
<path d="M786.5 283.5A10.9 10.9 0 0 1 786.5 295.5" fill="none" stroke="#1c1c1c" stroke-width="1.1"/>
<line x1="780.8" y1="301.5" x2="841" y2="301.5" stroke="#1c1c1c" stroke-width="1.3"/>
<rect x="786.5" y="242.5" width="38" height="41" fill="none" stroke="#1c1c1c" stroke-width="1.3"/>
<rect x="824.5" y="233.5" width="17" height="59" fill="none" stroke="#1c1c1c" stroke-width="1.3"/>
<rect x="841.5" y="196.5" width="25" height="133" fill="none" stroke="#1c1c1c" stroke-width="1.3"/>
<rect x="866.5" y="250.5" width="70" height="25" fill="none" stroke="#1c1c1c" stroke-width="1.3"/>
<path d="M866.5 276.5H894.5V301.5H866.5" fill="none" stroke="#1c1c1c" stroke-width="1.3"/>
<line x1="301.5" y1="498.5" x2="935.5" y2="498.5" stroke="#1e1e1e" stroke-width="1.1"/>
<path d="M301.5 498.5L318.7 496L318.7 501Z" fill="#111" stroke="none"/>
<path d="M935.5 498.5L918.3 501L918.3 496Z" fill="#111" stroke="none"/>
<line x1="301.5" y1="490.4" x2="301.5" y2="591.5" stroke="#1e1e1e" stroke-width="1.1"/>
<line x1="935.5" y1="490.4" x2="935.5" y2="594" stroke="#1e1e1e" stroke-width="1.1"/>
<path transform="translate(537.50 482.50) scale(0.940 1.150)" d="M0.4 0H5.2L2.5 4.3C4.5 4.3 5.6 5.6 5.6 7.2C5.6 9 4.4 10 2.8 10C1.6 10 0.7 9.5 0.1 8.5" fill="none" stroke="#383838" stroke-width="1.1" vector-effect="non-scaling-stroke"/>
<path transform="translate(544.10 482.50) scale(0.940 1.150)" d="M0 5A2.8 5 0 1 1 5.6 5A2.8 5 0 1 1 0 5Z" fill="none" stroke="#383838" stroke-width="1.1" vector-effect="non-scaling-stroke"/>
<path transform="translate(550.70 482.50) scale(0.940 1.150)" d="M2.0 1.4L3.2 0V10" fill="none" stroke="#383838" stroke-width="1.1" vector-effect="non-scaling-stroke"/>
<line x1="274.4" y1="548.5" x2="791.5" y2="548.5" stroke="#1e1e1e" stroke-width="1.1"/>
<path d="M301.5 548.5L284.3 551L284.3 546Z" fill="#111" stroke="none"/>
<path d="M333 548.5L350.2 546L350.2 551Z" fill="#111" stroke="none"/>
<path d="M733.5 548.5L716.3 551L716.3 546Z" fill="#111" stroke="none"/>
<path d="M765.2 548.5L782.4 546L782.4 551Z" fill="#111" stroke="none"/>
<line x1="333.5" y1="539.7" x2="333.5" y2="591.5" stroke="#1e1e1e" stroke-width="1.1"/>
<line x1="733.5" y1="539.7" x2="733.5" y2="591.3" stroke="#1e1e1e" stroke-width="1.1"/>
<path transform="translate(311.32 532.00) scale(0.940 1.160)" d="M2.0 1.4L3.2 0V10" fill="none" stroke="#383838" stroke-width="1.1" vector-effect="non-scaling-stroke"/>
<path transform="translate(317.92 532.00) scale(0.940 1.160)" d="M5.1 0H1.1L0.6 4.6C1.2 4 2 3.7 2.9 3.7C4.6 3.7 5.6 5 5.6 6.9C5.6 8.9 4.4 10 2.8 10C1.6 10 0.7 9.5 0.1 8.5" fill="none" stroke="#383838" stroke-width="1.1" vector-effect="non-scaling-stroke"/>
<path transform="translate(518.32 532.00) scale(0.940 1.160)" d="M2.0 1.4L3.2 0V10" fill="none" stroke="#383838" stroke-width="1.1" vector-effect="non-scaling-stroke"/>
<path transform="translate(524.92 532.00) scale(0.940 1.160)" d="M0.6 8.8C1.1 9.6 1.8 10 2.7 10C4.6 10 5.6 7.7 5.6 4.4C5.6 1.4 4.4 0 2.7 0C1 0 0 1.3 0 3C0 4.8 1.1 6 2.7 6C4.1 6 5.1 5.2 5.6 3.9" fill="none" stroke="#383838" stroke-width="1.1" vector-effect="non-scaling-stroke"/>
<path transform="translate(531.52 532.00) scale(0.940 1.160)" d="M0 5A2.8 5 0 1 1 5.6 5A2.8 5 0 1 1 0 5Z" fill="none" stroke="#383838" stroke-width="1.1" vector-effect="non-scaling-stroke"/>
<path transform="translate(736.32 532.00) scale(0.940 1.160)" d="M2.0 1.4L3.2 0V10" fill="none" stroke="#383838" stroke-width="1.1" vector-effect="non-scaling-stroke"/>
<path transform="translate(742.92 532.00) scale(0.940 1.160)" d="M5.1 0H1.1L0.6 4.6C1.2 4 2 3.7 2.9 3.7C4.6 3.7 5.6 5 5.6 6.9C5.6 8.9 4.4 10 2.8 10C1.6 10 0.7 9.5 0.1 8.5" fill="none" stroke="#383838" stroke-width="1.1" vector-effect="non-scaling-stroke"/>
<line x1="99.2" y1="591.5" x2="301.5" y2="591.5" stroke="#1e1e1e" stroke-width="1.1"/>
<line x1="99.2" y1="717.5" x2="301.5" y2="717.5" stroke="#1e1e1e" stroke-width="1.1"/>
<line x1="107.5" y1="591.6" x2="107.5" y2="717.8" stroke="#1e1e1e" stroke-width="1.1"/>
<path d="M107.5 591.6L110 608.8L105 608.8Z" fill="#111" stroke="none"/>
<path d="M107.5 717.8L105 700.6L110 700.6Z" fill="#111" stroke="none"/>
<g transform="translate(103.2 649.8) rotate(-90)">
<path transform="translate(0.00 -12.20) scale(0.940 1.220)" d="M5 1.2C4.5 0.4 3.8 0 2.9 0C1 0 0 2.3 0 5.6C0 8.6 1.2 10 2.9 10C4.6 10 5.6 8.7 5.6 7C5.6 5.2 4.5 4 2.9 4C1.5 4 0.5 4.8 0 6.1" fill="none" stroke="#383838" stroke-width="1.1" vector-effect="non-scaling-stroke"/>
<path transform="translate(6.60 -12.20) scale(0.940 1.220)" d="M0 5A2.8 5 0 1 1 5.6 5A2.8 5 0 1 1 0 5Z" fill="none" stroke="#383838" stroke-width="1.1" vector-effect="non-scaling-stroke"/>
</g>
<line x1="184.4" y1="686.5" x2="333" y2="686.5" stroke="#1e1e1e" stroke-width="1.1"/>
<line x1="192.5" y1="659.3" x2="192.5" y2="744.7" stroke="#1e1e1e" stroke-width="1.1"/>
<path d="M192.5 686.4L190 669.2L195 669.2Z" fill="#111" stroke="none"/>
<path d="M192.5 717.8L195 735L190 735Z" fill="#111" stroke="none"/>
<g transform="translate(188.4 701.5) rotate(-90)">
<path transform="translate(-1.88 -11.50) scale(0.940 1.150)" d="M2.0 1.4L3.2 0V10" fill="none" stroke="#383838" stroke-width="1.1" vector-effect="non-scaling-stroke"/>
<path transform="translate(4.72 -11.50) scale(0.940 1.150)" d="M5.1 0H1.1L0.6 4.6C1.2 4 2 3.7 2.9 3.7C4.6 3.7 5.6 5 5.6 6.9C5.6 8.9 4.4 10 2.8 10C1.6 10 0.7 9.5 0.1 8.5" fill="none" stroke="#383838" stroke-width="1.1" vector-effect="non-scaling-stroke"/>
</g>
<path d="M301.5 591.5H333.5V686.5M301.5 591.5V717.5H765.5V540.5" fill="none" stroke="#1c1c1c" stroke-width="1.3"/>
<line x1="333" y1="686.5" x2="733.5" y2="686.5" stroke="#1c1c1c" stroke-width="1.3"/>
<path d="M733.5 686.5V591.5H765.5" fill="none" stroke="#1c1c1c" stroke-width="1.3"/>
<line x1="333" y1="613.5" x2="400.5" y2="613.5" stroke="#1c1c1c" stroke-width="1.3"/>
<line x1="333" y1="653.5" x2="400.5" y2="653.5" stroke="#1c1c1c" stroke-width="1.3"/>
<line x1="514.3" y1="613.5" x2="733.5" y2="613.5" stroke="#1c1c1c" stroke-width="1.3"/>
<line x1="514.3" y1="653.5" x2="733.5" y2="653.5" stroke="#1c1c1c" stroke-width="1.3"/>
<rect x="400.5" y="591.5" width="93" height="84" fill="none" stroke="#1c1c1c" stroke-width="1.3"/>
<rect x="493.5" y="591.5" width="21" height="84" fill="none" stroke="#1c1c1c" stroke-width="1.3"/>
<rect x="514.5" y="603.5" width="13" height="10" fill="none" stroke="#1c1c1c" stroke-width="1.1"/>
<line x1="514.3" y1="608.5" x2="527" y2="608.5" stroke="#1c1c1c" stroke-width="1"/>
<rect x="514.5" y="653.5" width="13" height="10" fill="none" stroke="#1c1c1c" stroke-width="1.1"/>
<path transform="translate(519.5 695) scale(0.98 0.67)" d="M1 1L2.5 2.5 M0.5 5L2 6.5 M0.5 13L2.6 8.5 M4 2V8Q4 12 3 15 M4 2H9.5 M5.5 5H9 M5.5 5V15 M7 8L9.8 15 M9.5 7L7.5 9" fill="none" stroke="#111" stroke-width="1.8" vector-effect="non-scaling-stroke" stroke-linecap="square"/>
<path transform="translate(530 695) scale(0.98 0.67)" d="M4 1V12 M4 3H9.5V12H4 M4 7.5H9.5 M6.7 1V12 M0.8 1L2 2.6 M0 6H2V11L0 13 M1.4 12.5Q3 14.6 10 14.6" fill="none" stroke="#111" stroke-width="1.8" vector-effect="non-scaling-stroke" stroke-linecap="square"/>
<path transform="translate(540.5 695) scale(0.98 0.67)" d="M1 3H10 M1.5 3V9Q1.5 13 0 15 M3 6H7 M4 6L3 12 M3 9H6L4 12 M7.5 0L8 9Q9 14 10 15 M9.5 8L6 15 M8.6 0.5L9.6 1.6" fill="none" stroke="#111" stroke-width="1.8" vector-effect="non-scaling-stroke" stroke-linecap="square"/>
<rect x="765.5" y="591.5" width="21" height="88" fill="none" stroke="#1c1c1c" stroke-width="1.3"/>
<line x1="765.2" y1="596.5" x2="786" y2="596.5" stroke="#1c1c1c" stroke-width="1.1"/>
<line x1="765.2" y1="631.5" x2="786" y2="631.5" stroke="#1c1c1c" stroke-width="1.1"/>
<line x1="765.2" y1="635.5" x2="786" y2="635.5" stroke="#1c1c1c" stroke-width="1.1"/>
<line x1="765.2" y1="670.5" x2="786" y2="670.5" stroke="#1c1c1c" stroke-width="1.1"/>
<line x1="768.5" y1="561.8" x2="768.5" y2="591.3" stroke="#1c1c1c" stroke-width="1.1"/>
<line x1="781.5" y1="561.8" x2="781.5" y2="591.3" stroke="#1c1c1c" stroke-width="1.1"/>
<path d="M763.5 540.5H762.5V560.5Q762.5 561.5 763.5 561.5H785.5Q787.5 561.5 787.5 560.5V551.5" fill="none" stroke="#1c1c1c" stroke-width="1.2"/>
<path d="M762.5 540.5H895.5V551.5H774.5V540.5" fill="none" stroke="#1c1c1c" stroke-width="1.3"/>
<rect x="787.5" y="613.5" width="37" height="40" fill="none" stroke="#1c1c1c" stroke-width="1.3"/>
<rect x="824.5" y="603.5" width="17" height="60" fill="none" stroke="#1c1c1c" stroke-width="1.3"/>
<rect x="841.5" y="567.5" width="25" height="133" fill="none" stroke="#1c1c1c" stroke-width="1.3"/>
<rect x="866.5" y="568.5" width="69" height="26" fill="none" stroke="#1c1c1c" stroke-width="1.3"/>
<line x1="895" y1="540.5" x2="988" y2="540.5" stroke="#1e1e1e" stroke-width="1.1"/>
<line x1="765.2" y1="717.5" x2="988" y2="717.5" stroke="#1e1e1e" stroke-width="1.1"/>
<line x1="978.5" y1="540.7" x2="978.5" y2="717.6" stroke="#1e1e1e" stroke-width="1.1"/>
<path d="M978.5 540.7L981 557.9L976 557.9Z" fill="#111" stroke="none"/>
<path d="M978.5 717.6L976 700.4L981 700.4Z" fill="#111" stroke="none"/>
<g transform="translate(973.9 645.5) rotate(-90)">
<path transform="translate(0.00 -12.30) scale(0.940 1.230)" d="M2.8 4.7C1.3 4.7 0.5 3.8 0.5 2.35C0.5 0.9 1.4 0 2.8 0C4.2 0 5.1 0.9 5.1 2.35C5.1 3.8 4.3 4.7 2.8 4.7C1.1 4.7 0 5.8 0 7.35C0 9 1.2 10 2.8 10C4.4 10 5.6 9 5.6 7.35C5.6 5.8 4.5 4.7 2.8 4.7Z" fill="none" stroke="#383838" stroke-width="1.1" vector-effect="non-scaling-stroke"/>
<path transform="translate(6.60 -12.30) scale(0.940 1.230)" d="M4.3 10V0L0 7.1H5.8" fill="none" stroke="#383838" stroke-width="1.1" vector-effect="non-scaling-stroke"/>
<path transform="translate(13.20 -12.30) scale(0.940 1.230)" d="M2.4 9.2V10" fill="none" stroke="#383838" stroke-width="1.1" vector-effect="non-scaling-stroke"/>
<path transform="translate(19.80 -12.30) scale(0.940 1.230)" d="M0.4 0H5.2L2.5 4.3C4.5 4.3 5.6 5.6 5.6 7.2C5.6 9 4.4 10 2.8 10C1.6 10 0.7 9.5 0.1 8.5" fill="none" stroke="#383838" stroke-width="1.1" vector-effect="non-scaling-stroke"/>
<path transform="translate(26.40 -12.30) scale(0.940 1.230)" d="M5 1.2C4.5 0.4 3.8 0 2.9 0C1 0 0 2.3 0 5.6C0 8.6 1.2 10 2.9 10C4.6 10 5.6 8.7 5.6 7C5.6 5.2 4.5 4 2.9 4C1.5 4 0.5 4.8 0 6.1" fill="none" stroke="#383838" stroke-width="1.1" vector-effect="non-scaling-stroke"/>
</g>
<line x1="317.3" y1="808.5" x2="749.6" y2="808.5" stroke="#1e1e1e" stroke-width="1.1"/>
<path d="M317.3 808.5L334.5 806L334.5 811Z" fill="#111" stroke="none"/>
<path d="M749.6 808.5L732.4 811L732.4 806Z" fill="#111" stroke="none"/>
<line x1="317.5" y1="800" x2="317.5" y2="947" stroke="#1e1e1e" stroke-width="1.1"/>
<line x1="749.5" y1="800" x2="749.5" y2="947" stroke="#1e1e1e" stroke-width="1.1"/>
<path transform="translate(511.20 792.20) scale(0.940 1.140)" d="M0.3 2.6C0.4 0.8 1.5 0 2.8 0C4.3 0 5.3 1 5.3 2.7C5.3 4.6 3.4 6.2 0.2 10H5.6" fill="none" stroke="#383838" stroke-width="1.1" vector-effect="non-scaling-stroke"/>
<path transform="translate(517.80 792.20) scale(0.940 1.140)" d="M0 5A2.8 5 0 1 1 5.6 5A2.8 5 0 1 1 0 5Z" fill="none" stroke="#383838" stroke-width="1.1" vector-effect="non-scaling-stroke"/>
<path transform="translate(524.40 792.20) scale(0.940 1.140)" d="M5.1 0H1.1L0.6 4.6C1.2 4 2 3.7 2.9 3.7C4.6 3.7 5.6 5 5.6 6.9C5.6 8.9 4.4 10 2.8 10C1.6 10 0.7 9.5 0.1 8.5" fill="none" stroke="#383838" stroke-width="1.1" vector-effect="non-scaling-stroke"/>
<line x1="400.5" y1="858.5" x2="493.2" y2="858.5" stroke="#1e1e1e" stroke-width="1.1"/>
<path d="M400.5 858.5L417.7 856L417.7 861Z" fill="#111" stroke="none"/>
<path d="M493.2 858.5L476 861L476 856Z" fill="#111" stroke="none"/>
<line x1="400.5" y1="850" x2="400.5" y2="911" stroke="#1e1e1e" stroke-width="1.1"/>
<line x1="493.5" y1="850" x2="493.5" y2="911" stroke="#1e1e1e" stroke-width="1.1"/>
<path transform="translate(439.20 842.20) scale(0.940 1.140)" d="M4.3 10V0L0 7.1H5.8" fill="none" stroke="#383838" stroke-width="1.1" vector-effect="non-scaling-stroke"/>
<path transform="translate(445.80 842.20) scale(0.940 1.140)" d="M4.3 10V0L0 7.1H5.8" fill="none" stroke="#383838" stroke-width="1.1" vector-effect="non-scaling-stroke"/>
<line x1="12.8" y1="910.5" x2="400.5" y2="910.5" stroke="#1e1e1e" stroke-width="1.1"/>
<line x1="12.8" y1="1129.5" x2="400.5" y2="1129.5" stroke="#1e1e1e" stroke-width="1.1"/>
<line x1="21.5" y1="910.9" x2="21.5" y2="1129.6" stroke="#1e1e1e" stroke-width="1.1"/>
<path d="M21.5 910.9L24 928.1L19 928.1Z" fill="#111" stroke="none"/>
<path d="M21.5 1129.6L19 1112.4L24 1112.4Z" fill="#111" stroke="none"/>
<g transform="translate(17 1037) rotate(-90)">
<path transform="translate(-1.88 -12.80) scale(0.940 1.280)" d="M2.0 1.4L3.2 0V10" fill="none" stroke="#383838" stroke-width="1.1" vector-effect="non-scaling-stroke"/>
<path transform="translate(4.72 -12.80) scale(0.940 1.280)" d="M0 5A2.8 5 0 1 1 5.6 5A2.8 5 0 1 1 0 5Z" fill="none" stroke="#383838" stroke-width="1.1" vector-effect="non-scaling-stroke"/>
<path transform="translate(11.32 -12.80) scale(0.940 1.280)" d="M4.3 10V0L0 7.1H5.8" fill="none" stroke="#383838" stroke-width="1.1" vector-effect="non-scaling-stroke"/>
</g>
<line x1="73.6" y1="926.5" x2="301.5" y2="926.5" stroke="#1e1e1e" stroke-width="1.1"/>
<line x1="73.6" y1="1115.5" x2="301.5" y2="1115.5" stroke="#1e1e1e" stroke-width="1.1"/>
<line x1="82.5" y1="926" x2="82.5" y2="1115" stroke="#1e1e1e" stroke-width="1.1"/>
<path d="M82.5 926L85 943.2L80 943.2Z" fill="#111" stroke="none"/>
<path d="M82.5 1115L80 1097.8L85 1097.8Z" fill="#111" stroke="none"/>
<g transform="translate(78 1035.5) rotate(-90)">
<path transform="translate(0.00 -12.00) scale(0.940 1.200)" d="M0.6 8.8C1.1 9.6 1.8 10 2.7 10C4.6 10 5.6 7.7 5.6 4.4C5.6 1.4 4.4 0 2.7 0C1 0 0 1.3 0 3C0 4.8 1.1 6 2.7 6C4.1 6 5.1 5.2 5.6 3.9" fill="none" stroke="#383838" stroke-width="1.1" vector-effect="non-scaling-stroke"/>
<path transform="translate(6.60 -12.00) scale(0.940 1.200)" d="M0 5A2.8 5 0 1 1 5.6 5A2.8 5 0 1 1 0 5Z" fill="none" stroke="#383838" stroke-width="1.1" vector-effect="non-scaling-stroke"/>
</g>
<line x1="149.8" y1="952.5" x2="312.5" y2="952.5" stroke="#1e1e1e" stroke-width="1.1"/>
<line x1="149.8" y1="1088.5" x2="312.5" y2="1088.5" stroke="#1e1e1e" stroke-width="1.1"/>
<line x1="157.5" y1="952.2" x2="157.5" y2="1088.9" stroke="#1e1e1e" stroke-width="1.1"/>
<path d="M157.5 952.2L160 969.4L155 969.4Z" fill="#111" stroke="none"/>
<path d="M157.5 1088.9L155 1071.7L160 1071.7Z" fill="#111" stroke="none"/>
<g transform="translate(154 1035) rotate(-90)">
<path transform="translate(0.00 -12.00) scale(0.940 1.200)" d="M5 1.2C4.5 0.4 3.8 0 2.9 0C1 0 0 2.3 0 5.6C0 8.6 1.2 10 2.9 10C4.6 10 5.6 8.7 5.6 7C5.6 5.2 4.5 4 2.9 4C1.5 4 0.5 4.8 0 6.1" fill="none" stroke="#383838" stroke-width="1.1" vector-effect="non-scaling-stroke"/>
<path transform="translate(6.60 -12.00) scale(0.940 1.200)" d="M5.1 0H1.1L0.6 4.6C1.2 4 2 3.7 2.9 3.7C4.6 3.7 5.6 5 5.6 6.9C5.6 8.9 4.4 10 2.8 10C1.6 10 0.7 9.5 0.1 8.5" fill="none" stroke="#383838" stroke-width="1.1" vector-effect="non-scaling-stroke"/>
</g>
<path d="M400.5 926.5H301.5V1115.5H400.5M493.5 926.5H765.5M493.5 1115.5H765.5" fill="none" stroke="#1c1c1c" stroke-width="1.3"/>
<line x1="333.5" y1="926" x2="333.5" y2="1115" stroke="#1c1c1c" stroke-width="1.3"/>
<line x1="733.5" y1="926" x2="733.5" y2="1115" stroke="#1c1c1c" stroke-width="1.3"/>
<line x1="333.2" y1="932.5" x2="400.5" y2="932.5" stroke="#1c1c1c" stroke-width="1.2"/>
<line x1="333.2" y1="972.5" x2="400.5" y2="972.5" stroke="#1c1c1c" stroke-width="1.2"/>
<line x1="333.2" y1="1000.5" x2="400.5" y2="1000.5" stroke="#1c1c1c" stroke-width="1.2"/>
<line x1="333.2" y1="1040.5" x2="400.5" y2="1040.5" stroke="#1c1c1c" stroke-width="1.2"/>
<line x1="333.2" y1="1069.5" x2="400.5" y2="1069.5" stroke="#1c1c1c" stroke-width="1.2"/>
<line x1="333.2" y1="1108.5" x2="400.5" y2="1108.5" stroke="#1c1c1c" stroke-width="1.2"/>
<line x1="493.2" y1="932.5" x2="733.4" y2="932.5" stroke="#1c1c1c" stroke-width="1.2"/>
<line x1="493.2" y1="1108.5" x2="733.4" y2="1108.5" stroke="#1c1c1c" stroke-width="1.2"/>
<line x1="514.5" y1="971.5" x2="733.4" y2="971.5" stroke="#1c1c1c" stroke-width="1.2"/>
<line x1="514.5" y1="1000.5" x2="733.4" y2="1000.5" stroke="#1c1c1c" stroke-width="1.2"/>
<line x1="514.5" y1="1040.5" x2="733.4" y2="1040.5" stroke="#1c1c1c" stroke-width="1.2"/>
<line x1="514.5" y1="1069.5" x2="733.4" y2="1069.5" stroke="#1c1c1c" stroke-width="1.2"/>
<line x1="514.5" y1="970.8" x2="514.5" y2="1070" stroke="#1c1c1c" stroke-width="1.2"/>
<rect x="400.5" y="910.5" width="93" height="220" fill="none" stroke="#1c1c1c" stroke-width="1.3"/>
<rect x="493.5" y="970.5" width="21" height="22" fill="none" stroke="#1c1c1c" stroke-width="1.2"/>
<rect x="493.5" y="1048.5" width="21" height="22" fill="none" stroke="#1c1c1c" stroke-width="1.2"/>
<rect x="514.5" y="981.5" width="13" height="11" fill="none" stroke="#1c1c1c" stroke-width="1.1"/>
<rect x="514.5" y="1044.5" width="13" height="11" fill="none" stroke="#1c1c1c" stroke-width="1.1"/>
<circle cx="566.5" cy="988.5" r="8.1" fill="none" stroke="#1c1c1c" stroke-width="1.35"/>
<circle cx="566.5" cy="988.5" r="4.7" fill="none" stroke="#1c1c1c" stroke-width="1.35"/>
<circle cx="566.5" cy="1051.5" r="8.1" fill="none" stroke="#1c1c1c" stroke-width="1.35"/>
<circle cx="566.5" cy="1051.5" r="4.7" fill="none" stroke="#1c1c1c" stroke-width="1.35"/>
<path d="M366.5 972.5A11 11 0 0 0 387.5 972.5" fill="none" stroke="#1c1c1c" stroke-width="1.2"/>
<path d="M371.5 972.5A6.2 6.2 0 0 0 382.5 972.5" fill="none" stroke="#1c1c1c" stroke-width="1.2"/>
<path d="M366.5 1069.5A11 11 0 0 1 387.5 1069.5" fill="none" stroke="#1c1c1c" stroke-width="1.2"/>
<path d="M371.5 1069.5A6.2 6.2 0 0 1 382.5 1069.5" fill="none" stroke="#1c1c1c" stroke-width="1.2"/>
<path d="M577.5 971.5A11 11 0 0 0 598.5 971.5" fill="none" stroke="#1c1c1c" stroke-width="1.2"/>
<path d="M582.5 971.5A6 6 0 0 0 592.5 971.5" fill="none" stroke="#1c1c1c" stroke-width="1.2"/>
<path d="M577.5 1069.5A11 11 0 0 1 598.5 1069.5" fill="none" stroke="#1c1c1c" stroke-width="1.2"/>
<path d="M582.5 1069.5A6.5 6.5 0 0 1 593.5 1069.5" fill="none" stroke="#1c1c1c" stroke-width="1.2"/>
<path d="M683.5 971.5A11 11 0 0 0 703.5 971.5" fill="none" stroke="#1c1c1c" stroke-width="1.2"/>
<path d="M688.5 971.5A6 6 0 0 0 698.5 971.5" fill="none" stroke="#1c1c1c" stroke-width="1.2"/>
<path d="M683.5 1069.5A11 11 0 0 1 703.5 1069.5" fill="none" stroke="#1c1c1c" stroke-width="1.2"/>
<path d="M687.5 1069.5A6.5 6.5 0 0 1 699.5 1069.5" fill="none" stroke="#1c1c1c" stroke-width="1.2"/>
<circle cx="317.5" cy="952.5" r="4.6" fill="none" stroke="#1c1c1c" stroke-width="1.35"/>
<circle cx="749.5" cy="952.5" r="4.5" fill="none" stroke="#1c1c1c" stroke-width="1.35"/>
<circle cx="317.5" cy="1088.5" r="4.6" fill="none" stroke="#1c1c1c" stroke-width="1.35"/>
<circle cx="749.5" cy="1088.5" r="4.5" fill="none" stroke="#1c1c1c" stroke-width="1.35"/>
<line x1="406" y1="946.5" x2="455.5" y2="946.5" stroke="#1e1e1e" stroke-width="1.1"/>
<line x1="470" y1="946.5" x2="487.5" y2="946.5" stroke="#1e1e1e" stroke-width="1.1"/>
<line x1="415.5" y1="937.25" x2="415.5" y2="955.25" stroke="#1e1e1e" stroke-width="1.1"/>
<circle cx="415.5" cy="946.5" r="3.8" fill="none" stroke="#1c1c1c" stroke-width="1.35"/>
<line x1="447.5" y1="937.25" x2="447.5" y2="955.25" stroke="#1e1e1e" stroke-width="1.1"/>
<circle cx="447.5" cy="946.5" r="3.8" fill="none" stroke="#1c1c1c" stroke-width="1.35"/>
<line x1="478.5" y1="937.25" x2="478.5" y2="955.25" stroke="#1e1e1e" stroke-width="1.1"/>
<circle cx="478.5" cy="946.5" r="3.8" fill="none" stroke="#1c1c1c" stroke-width="1.35"/>
<line x1="406" y1="988.5" x2="455.5" y2="988.5" stroke="#1e1e1e" stroke-width="1.1"/>
<line x1="470" y1="988.5" x2="487.5" y2="988.5" stroke="#1e1e1e" stroke-width="1.1"/>
<line x1="415.5" y1="979.25" x2="415.5" y2="997.25" stroke="#1e1e1e" stroke-width="1.1"/>
<circle cx="415.5" cy="988.5" r="3.8" fill="none" stroke="#1c1c1c" stroke-width="1.35"/>
<line x1="447.5" y1="979.25" x2="447.5" y2="997.25" stroke="#1e1e1e" stroke-width="1.1"/>
<circle cx="447.5" cy="988.5" r="3.8" fill="none" stroke="#1c1c1c" stroke-width="1.35"/>
<line x1="478.5" y1="979.25" x2="478.5" y2="997.25" stroke="#1e1e1e" stroke-width="1.1"/>
<circle cx="478.5" cy="988.5" r="3.8" fill="none" stroke="#1c1c1c" stroke-width="1.35"/>
<line x1="406" y1="1051.5" x2="455.5" y2="1051.5" stroke="#1e1e1e" stroke-width="1.1"/>
<line x1="470" y1="1051.5" x2="487.5" y2="1051.5" stroke="#1e1e1e" stroke-width="1.1"/>
<line x1="415.5" y1="1042.75" x2="415.5" y2="1060.75" stroke="#1e1e1e" stroke-width="1.1"/>
<circle cx="415.5" cy="1051.5" r="3.8" fill="none" stroke="#1c1c1c" stroke-width="1.35"/>
<line x1="447.5" y1="1042.75" x2="447.5" y2="1060.75" stroke="#1e1e1e" stroke-width="1.1"/>
<circle cx="447.5" cy="1051.5" r="3.8" fill="none" stroke="#1c1c1c" stroke-width="1.35"/>
<line x1="478.5" y1="1042.75" x2="478.5" y2="1060.75" stroke="#1e1e1e" stroke-width="1.1"/>
<circle cx="478.5" cy="1051.5" r="3.8" fill="none" stroke="#1c1c1c" stroke-width="1.35"/>
<line x1="406" y1="1093.5" x2="455.5" y2="1093.5" stroke="#1e1e1e" stroke-width="1.1"/>
<line x1="470" y1="1093.5" x2="487.5" y2="1093.5" stroke="#1e1e1e" stroke-width="1.1"/>
<line x1="415.5" y1="1084.75" x2="415.5" y2="1102.75" stroke="#1e1e1e" stroke-width="1.1"/>
<circle cx="415.5" cy="1093.5" r="3.8" fill="none" stroke="#1c1c1c" stroke-width="1.35"/>
<line x1="447.5" y1="1084.75" x2="447.5" y2="1102.75" stroke="#1e1e1e" stroke-width="1.1"/>
<circle cx="447.5" cy="1093.5" r="3.8" fill="none" stroke="#1c1c1c" stroke-width="1.35"/>
<line x1="478.5" y1="1084.75" x2="478.5" y2="1102.75" stroke="#1e1e1e" stroke-width="1.1"/>
<circle cx="478.5" cy="1093.5" r="3.8" fill="none" stroke="#1c1c1c" stroke-width="1.35"/>
<line x1="432.5" y1="920" x2="432.5" y2="1121" stroke="#1e1e1e" stroke-width="1.1"/>
<path d="M432.5 946.25L430 929.05L435 929.05Z" fill="#111" stroke="none"/>
<path d="M432.5 988.25L435 1005.45L430 1005.45Z" fill="#111" stroke="none"/>
<path d="M432.5 1051.75L430 1034.55L435 1034.55Z" fill="#111" stroke="none"/>
<path d="M432.5 1093.75L435 1110.95L430 1110.95Z" fill="#111" stroke="none"/>
<g transform="translate(428.3 971.2) rotate(-90)">
<path transform="translate(0.00 -12.00) scale(0.940 1.200)" d="M0.3 2.6C0.4 0.8 1.5 0 2.8 0C4.3 0 5.3 1 5.3 2.7C5.3 4.6 3.4 6.2 0.2 10H5.6" fill="none" stroke="#383838" stroke-width="1.1" vector-effect="non-scaling-stroke"/>
<path transform="translate(6.60 -12.00) scale(0.940 1.200)" d="M0 5A2.8 5 0 1 1 5.6 5A2.8 5 0 1 1 0 5Z" fill="none" stroke="#383838" stroke-width="1.1" vector-effect="non-scaling-stroke"/>
</g>
<g transform="translate(428.3 1035.9) rotate(-90)">
<path transform="translate(0.00 -12.00) scale(0.940 1.200)" d="M0.4 0H5.2L2.5 4.3C4.5 4.3 5.6 5.6 5.6 7.2C5.6 9 4.4 10 2.8 10C1.6 10 0.7 9.5 0.1 8.5" fill="none" stroke="#383838" stroke-width="1.1" vector-effect="non-scaling-stroke"/>
<path transform="translate(6.60 -12.00) scale(0.940 1.200)" d="M0 5A2.8 5 0 1 1 5.6 5A2.8 5 0 1 1 0 5Z" fill="none" stroke="#383838" stroke-width="1.1" vector-effect="non-scaling-stroke"/>
</g>
<g transform="translate(428.3 1081.2) rotate(-90)">
<path transform="translate(0.00 -12.00) scale(0.940 1.200)" d="M0.3 2.6C0.4 0.8 1.5 0 2.8 0C4.3 0 5.3 1 5.3 2.7C5.3 4.6 3.4 6.2 0.2 10H5.6" fill="none" stroke="#383838" stroke-width="1.1" vector-effect="non-scaling-stroke"/>
<path transform="translate(6.60 -12.00) scale(0.940 1.200)" d="M0 5A2.8 5 0 1 1 5.6 5A2.8 5 0 1 1 0 5Z" fill="none" stroke="#383838" stroke-width="1.1" vector-effect="non-scaling-stroke"/>
</g>
<line x1="361" y1="1193.5" x2="478.75" y2="1193.5" stroke="#1e1e1e" stroke-width="1.1"/>
<path d="M400.5 1193.5L383.3 1196L383.3 1191Z" fill="#111" stroke="none"/>
<path d="M415.5 1193.5L432.7 1191L432.7 1196Z" fill="#111" stroke="none"/>
<path d="M478.75 1193.5L461.55 1196L461.55 1191Z" fill="#111" stroke="none"/>
<line x1="400.5" y1="1130" x2="400.5" y2="1201" stroke="#1e1e1e" stroke-width="1.1"/>
<line x1="415.5" y1="1098" x2="415.5" y2="1201" stroke="#1e1e1e" stroke-width="1.1"/>
<line x1="478.5" y1="1098" x2="478.5" y2="1201" stroke="#1e1e1e" stroke-width="1.1"/>
<path transform="translate(368.25 1177.20) scale(0.940 1.100)" d="M0 0H5.6C3.7 2.8 2.5 6 2.1 10" fill="none" stroke="#383838" stroke-width="1.1" vector-effect="non-scaling-stroke"/>
<path transform="translate(445.30 1177.20) scale(0.940 1.100)" d="M0.4 0H5.2L2.5 4.3C4.5 4.3 5.6 5.6 5.6 7.2C5.6 9 4.4 10 2.8 10C1.6 10 0.7 9.5 0.1 8.5" fill="none" stroke="#383838" stroke-width="1.1" vector-effect="non-scaling-stroke"/>
<path transform="translate(451.90 1177.20) scale(0.940 1.100)" d="M0 5A2.8 5 0 1 1 5.6 5A2.8 5 0 1 1 0 5Z" fill="none" stroke="#383838" stroke-width="1.1" vector-effect="non-scaling-stroke"/>
<line x1="530.6" y1="874.5" x2="666.6" y2="874.5" stroke="#1e1e1e" stroke-width="1.1"/>
<line x1="530.6" y1="874.1" x2="480.5" y2="943.5" stroke="#1e1e1e" stroke-width="1.1"/>
<path d="M480.8 943.2L489.64 926.15L494.18 929.42Z" fill="#111" stroke="none"/>
<path transform="translate(536.22 860.40) scale(0.940 1.000)" d="M2.0 1.4L3.2 0V10" fill="none" stroke="#383838" stroke-width="1.1" vector-effect="non-scaling-stroke"/>
<path transform="translate(542.82 860.40) scale(0.940 1.000)" d="M0.3 2.6C0.4 0.8 1.5 0 2.8 0C4.3 0 5.3 1 5.3 2.7C5.3 4.6 3.4 6.2 0.2 10H5.6" fill="none" stroke="#383838" stroke-width="1.1" vector-effect="non-scaling-stroke"/>
<path transform="translate(556.32 860.40) scale(0.940 1.000)" d="M0.6 1.4L5.0 10M5.0 1.4L0.6 10" fill="none" stroke="#383838" stroke-width="1.1" vector-effect="non-scaling-stroke"/>
<path transform="translate(574.91 860.40) scale(0.940 1.000)" d="M0.3 10V0L3 7.2L5.7 0V10" fill="none" stroke="#383838" stroke-width="1.1" vector-effect="non-scaling-stroke"/>
<path transform="translate(581.61 860.40) scale(0.940 1.000)" d="M4.3 10V0L0 7.1H5.8" fill="none" stroke="#383838" stroke-width="1.1" vector-effect="non-scaling-stroke"/>
<line x1="595.8" y1="866.5" x2="603.5" y2="866.5" stroke="#383838" stroke-width="1.05"/>
<path transform="translate(611.20 860.40) scale(0.940 1.000)" d="M5 1.2C4.5 0.4 3.8 0 2.9 0C1 0 0 2.3 0 5.6C0 8.6 1.2 10 2.9 10C4.6 10 5.6 8.7 5.6 7C5.6 5.2 4.5 4 2.9 4C1.5 4 0.5 4.8 0 6.1" fill="none" stroke="#383838" stroke-width="1.1" vector-effect="non-scaling-stroke"/>
<path transform="translate(617.50 860.40) scale(0.940 1.000)" d="M0.5 0V10M5.2 0V10M0.5 4.9H5.2" fill="none" stroke="#383838" stroke-width="1.1" vector-effect="non-scaling-stroke"/>
<path d="M632.5 860.5H643.5M638.5 860.5V871.5M633.5 865.5L638.5 871.5L642.5 865.5" fill="none" stroke="#383838" stroke-width="1.05"/>
<path transform="translate(652.72 860.40) scale(0.940 1.000)" d="M2.0 1.4L3.2 0V10" fill="none" stroke="#383838" stroke-width="1.1" vector-effect="non-scaling-stroke"/>
<path transform="translate(658.52 860.40) scale(0.940 1.000)" d="M0 5A2.8 5 0 1 1 5.6 5A2.8 5 0 1 1 0 5Z" fill="none" stroke="#383838" stroke-width="1.1" vector-effect="non-scaling-stroke"/>
<circle cx="564.5" cy="884.5" r="5.3" fill="none" stroke="#383838" stroke-width="1"/>
<line x1="561.54" y1="891.2" x2="567.21" y2="876.78" stroke="#383838" stroke-width="1"/>
<path transform="translate(579.70 878.70) scale(0.940 1.060)" d="M0.4 0H5.2L2.5 4.3C4.5 4.3 5.6 5.6 5.6 7.2C5.6 9 4.4 10 2.8 10C1.6 10 0.7 9.5 0.1 8.5" fill="none" stroke="#383838" stroke-width="1.1" vector-effect="non-scaling-stroke"/>
<path transform="translate(586.10 878.70) scale(0.940 1.060)" d="M2.4 9.2V10" fill="none" stroke="#383838" stroke-width="1.1" vector-effect="non-scaling-stroke"/>
<path transform="translate(592.50 878.70) scale(0.940 1.060)" d="M0.4 0H5.2L2.5 4.3C4.5 4.3 5.6 5.6 5.6 7.2C5.6 9 4.4 10 2.8 10C1.6 10 0.7 9.5 0.1 8.5" fill="none" stroke="#383838" stroke-width="1.1" vector-effect="non-scaling-stroke"/>
<path transform="translate(598.90 878.70) scale(0.940 1.060)" d="M0 5A2.8 5 0 1 1 5.6 5A2.8 5 0 1 1 0 5Z" fill="none" stroke="#383838" stroke-width="1.1" vector-effect="non-scaling-stroke"/>
<path d="M613.5 878.5H624.5M618.5 878.5V889.5M614.5 883.5L618.5 889.5L623.5 883.5" fill="none" stroke="#383838" stroke-width="1.05"/>
<path transform="translate(634.52 878.70) scale(0.940 1.060)" d="M2.0 1.4L3.2 0V10" fill="none" stroke="#383838" stroke-width="1.1" vector-effect="non-scaling-stroke"/>
<path transform="translate(640.32 878.70) scale(0.940 1.060)" d="M0 5A2.8 5 0 1 1 5.6 5A2.8 5 0 1 1 0 5Z" fill="none" stroke="#383838" stroke-width="1.1" vector-effect="non-scaling-stroke"/>
<line x1="830.2" y1="904.5" x2="883.5" y2="904.5" stroke="#1e1e1e" stroke-width="1.1"/>
<line x1="830.2" y1="904.8" x2="752" y2="950.5" stroke="#1e1e1e" stroke-width="1.1"/>
<path d="M753 949.8L766.28 938.82L769.1 943.66Z" fill="#111" stroke="none"/>
<path transform="translate(838.10 889.30) scale(0.940 1.100)" d="M4.3 10V0L0 7.1H5.8" fill="none" stroke="#383838" stroke-width="1.1" vector-effect="non-scaling-stroke"/>
<path transform="translate(851.02 889.30) scale(0.940 1.100)" d="M0.6 1.4L5.0 10M5.0 1.4L0.6 10" fill="none" stroke="#383838" stroke-width="1.1" vector-effect="non-scaling-stroke"/>
<path transform="translate(869.71 889.30) scale(0.940 1.100)" d="M0.3 10V0L3 7.2L5.7 0V10" fill="none" stroke="#383838" stroke-width="1.1" vector-effect="non-scaling-stroke"/>
<path transform="translate(877.01 889.30) scale(0.940 1.100)" d="M5.1 0H1.1L0.6 4.6C1.2 4 2 3.7 2.9 3.7C4.6 3.7 5.6 5 5.6 6.9C5.6 8.9 4.4 10 2.8 10C1.6 10 0.7 9.5 0.1 8.5" fill="none" stroke="#383838" stroke-width="1.1" vector-effect="non-scaling-stroke"/>
<path d="M765.5 926.5V986.5M765.5 1003.5V1013.5M765.5 1028.5V1115.5" fill="none" stroke="#1c1c1c" stroke-width="1.3"/>
<path d="M774.5 982.5H895.5V1007.5H774.5A12.65 12.65 0 0 1 774.5 982.5" fill="none" stroke="#1c1c1c" stroke-width="1.3"/>
<path d="M840.5 982.5V954.5H866.5V982.5" fill="none" stroke="#1c1c1c" stroke-width="1.3"/>
<path d="M840.5 1007.5V1087.5H866.5V1007.5" fill="none" stroke="#1c1c1c" stroke-width="1.3"/>
<rect x="866.5" y="1008.5" width="69" height="25" fill="none" stroke="#1c1c1c" stroke-width="1.3"/>
<rect x="823.5" y="1007.5" width="17" height="43" fill="none" stroke="#1c1c1c" stroke-width="1.3"/>
<rect x="786.5" y="1007.5" width="37" height="33" fill="none" stroke="#1c1c1c" stroke-width="1.3"/>
<line x1="765" y1="1011.5" x2="786.2" y2="1011.5" stroke="#1c1c1c" stroke-width="1.1"/>
<line x1="765" y1="1013.5" x2="786.2" y2="1013.5" stroke="#1c1c1c" stroke-width="1.1"/>
<line x1="765" y1="1028.5" x2="786.2" y2="1028.5" stroke="#1c1c1c" stroke-width="1.1"/>
<line x1="765" y1="1031.5" x2="786.2" y2="1031.5" stroke="#1c1c1c" stroke-width="1.1"/>
<line x1="765" y1="1038.5" x2="786.2" y2="1038.5" stroke="#1c1c1c" stroke-width="1.1"/>
<line x1="765.5" y1="1028.3" x2="765.5" y2="1038" stroke="#1c1c1c" stroke-width="1.2"/>
</svg>
</body></html>
